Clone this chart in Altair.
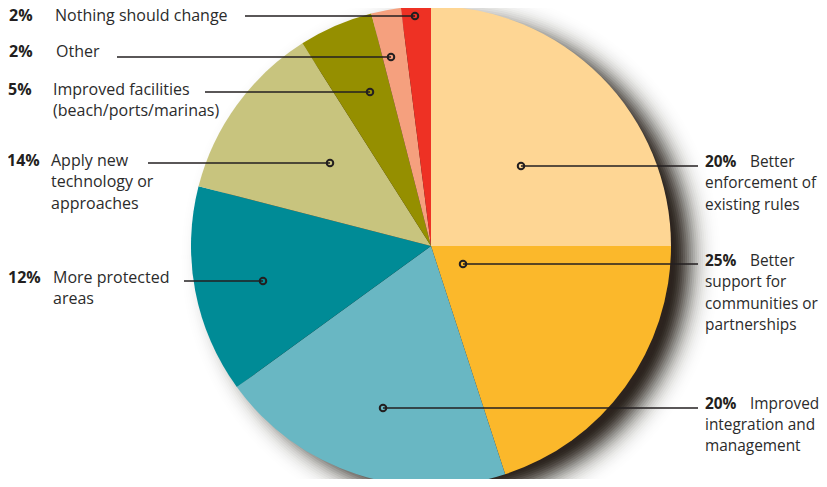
import math
import altair as alt
import pandas as pd

# ---- data ----
categories = [
    "Better enforcement of existing rules",
    "Better support for communities or partnerships",
    "Improved integration and management",
    "More protected areas",
    "Apply new technology or approaches",
    "Improved facilities (beach/ports/marinas)",
    "Other",
    "Nothing should change",
]
slice_share = [25, 20, 20, 14, 12, 5, 2, 2]          # sizes of the drawn slices
label_pct = ["20%", "25%", "20%", "12%", "14%", "5%", "2%", "2%"]
label_lines = [
    ["Better", "enforcement of", "existing rules"],
    ["Better", "support for", "communities or", "partnerships"],
    ["Improved", "integration and", "management"],
    ["More protected", "areas"],
    ["Apply new", "technology or", "approaches"],
    ["Improved facilities", "(beach/ports/marinas)"],
    ["Other"],
    ["Nothing should change"],
]
colors = ["#FED694", "#FBB82B", "#69B7C3", "#008B96", "#C8C47E", "#958F00", "#F5A07E", "#EE3124"]

# ---- layout (page pixel positions) ----
side = ["right", "right", "right", "left", "left", "left", "left", "left"]
pct_x = [705, 705, 705, 8, 7, 8, 9, 9]
text_x = [750, 750, 750, 53, 51, 53, 56, 55]
text_y = [162, 261, 403.5, 278, 161, 90, 52, 15.5]
line_x1 = [521, 463, 383, 184, 148, 205, 117, 245]
line_x2 = [698, 698, 698, 263, 330, 370, 391, 415]
line_y = [166, 264, 408, 281, 163, 92, 57, 16]
dot_x = [521, 463, 383, 263, 330, 370, 391, 415]
font_size = [15.4, 15.4, 15.4, 16, 16, 16, 16, 16]
LINE_H = 21.3

CX, CY, R = 431, 246, 240

# ---- drop-shadow styling (soft ring of translucent discs) ----
SH_DX, SH_DY = 20, 12
SH_CORE, SH_SIGMA, SH_MAX = 222, 22, 0.95
shadow_radii = list(range(280, SH_CORE - 1, -2))      # descending
def _target(r):
    return SH_MAX * math.exp(-((r - SH_CORE) / SH_SIGMA) ** 2) if r > SH_CORE else SH_MAX
shadow_alpha = []
prev_T = 1.0
for r in shadow_radii:
    T = 1 - _target(r)
    shadow_alpha.append(max(0.0, 1 - T / prev_T))
    prev_T = T

PAGE_W, PAGE_H = 811, 471
X = alt.Scale(domain=[8, 8 + PAGE_W], range=[0, PAGE_W], nice=False, zero=False)
Y = alt.Scale(domain=[8, 8 + PAGE_H], range=[0, PAGE_H], nice=False, zero=False)

pie_df = pd.DataFrame({
    "cat": categories, "share": slice_share, "idx": list(range(len(categories))),
    "cx": [CX] * len(categories), "cy": [CY] * len(categories),
})
center_df = pd.DataFrame({"cx": [CX + SH_DX], "cy": [CY + SH_DY]})

lab = pd.DataFrame({
    "pct": label_pct, "pct_x": pct_x, "text_y": text_y, "fs": font_size,
    "x1": line_x1, "x2": line_x2, "ly": line_y, "dot_x": dot_x,
})

rows = []
for i, lines in enumerate(label_lines):
    for j, t in enumerate(lines):
        if j == 0:
            x = text_x[i]
        else:
            x = pct_x[i] if side[i] == "right" else text_x[i]
        rows.append({"t": t, "x": x, "y": text_y[i] + LINE_H * j, "fs": font_size[i]})
txt = pd.DataFrame(rows)

FONT = "Open Sans"
INK = "#231F20"

shadow_layers = [
    alt.Chart(center_df).mark_arc(
        radius=r, theta=0, theta2=6.2832, color="#221A14", opacity=round(a, 4), strokeWidth=0
    ).encode(
        x=alt.X("cx:Q", scale=X, axis=None),
        y=alt.Y("cy:Q", scale=Y, axis=None),
    )
    for r, a in zip(shadow_radii, shadow_alpha) if a > 0.0005
]

pie = alt.Chart(pie_df).mark_arc(radius=R, strokeWidth=0).encode(
    theta=alt.Theta("share:Q", stack=True),
    order=alt.Order("idx:Q"),
    color=alt.Color("cat:N", scale=alt.Scale(domain=categories, range=colors), legend=None),
    x=alt.X("cx:Q", scale=X, axis=None),
    y=alt.Y("cy:Q", scale=Y, axis=None),
)

rules = alt.Chart(lab).mark_rule(color=INK, strokeWidth=1.7).encode(
    x=alt.X("x1:Q", scale=X, axis=None),
    x2="x2:Q",
    y=alt.Y("ly:Q", scale=Y, axis=None),
)

dots = alt.Chart(lab).mark_point(shape="circle", filled=False, size=42,
                                 strokeWidth=2, color=INK, opacity=1).encode(
    x=alt.X("dot_x:Q", scale=X, axis=None),
    y=alt.Y("ly:Q", scale=Y, axis=None),
)

pct_text = alt.Chart(lab).mark_text(
    align="left", baseline="middle", font=FONT, fontWeight="bold", color=INK
).encode(
    x=alt.X("pct_x:Q", scale=X, axis=None),
    y=alt.Y("text_y:Q", scale=Y, axis=None),
    size=alt.Size("fs:Q", scale=None),
    text="pct:N",
)

body_text = alt.Chart(txt).mark_text(
    align="left", baseline="middle", font=FONT, color="#2B2B2B"
).encode(
    x=alt.X("x:Q", scale=X, axis=None),
    y=alt.Y("y:Q", scale=Y, axis=None),
    size=alt.Size("fs:Q", scale=None),
    text="t:N",
)

chart = alt.layer(*shadow_layers, pie, rules, dots, pct_text, body_text).properties(
    width=PAGE_W, height=PAGE_H,
    autosize=alt.AutoSizeParams(type="none"),
    padding=0,
).configure_view(stroke=None)

chart.save("out.html", embed_options={"renderer": "svg", "actions": False})
